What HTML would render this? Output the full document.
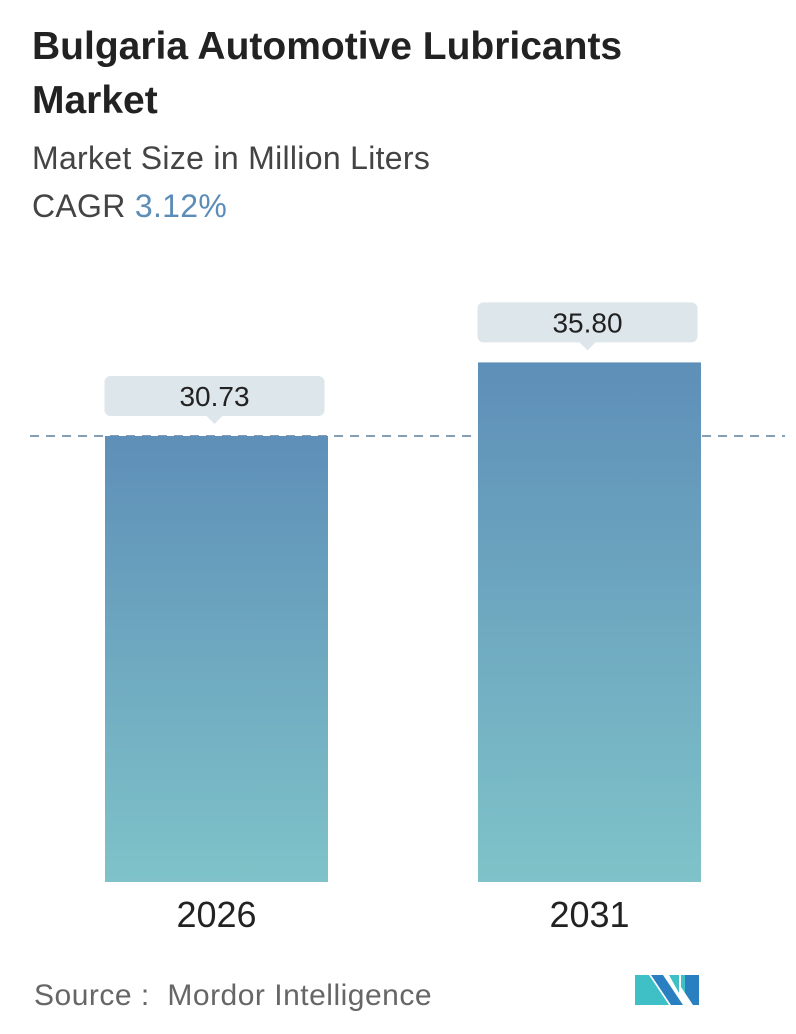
<!DOCTYPE html>
<html><head><meta charset="utf-8"><style>
body{margin:0;background:#fff;font-family:"Liberation Sans",sans-serif;}
#wrap{position:relative;width:796px;height:1034px;overflow:hidden;}
.t{position:absolute;white-space:nowrap;}
</style></head><body>
<div id="wrap">
<div class="t" style="left:32px;top:20px;font-size:39px;font-weight:bold;color:#222;line-height:54px;">Bulgaria Automotive Lubricants<br>Market</div>
<div class="t" style="left:32px;top:138px;font-size:32px;letter-spacing:0.3px;color:#444;line-height:40px;">Market Size in Million Liters</div>
<div class="t" style="left:32px;top:186px;font-size:32px;letter-spacing:0.3px;color:#444;line-height:40px;">CAGR <span style="color:#5b8db8">3.12%</span></div>
<svg id="chart" width="796" height="1034" style="position:absolute;left:0;top:0">
<defs><linearGradient id="g" x1="0" y1="0" x2="0" y2="1"><stop offset="0" stop-color="#5e8fb8"/><stop offset="1" stop-color="#7fc3c9"/></linearGradient></defs>
</svg>
<div class="t" style="left:34px;top:978px;font-size:30px;letter-spacing:0.5px;color:#666;line-height:36px;">Source :&nbsp; Mordor Intelligence</div>
<svg width="70" height="36" style="position:absolute;left:633px;top:971px">
<polygon points="2,4 16,4 36,34 2,34" fill="#3ec0c6"/><polygon points="18,4 30,4 50,34 38,34" fill="#2a7fc0"/><polygon points="36,4 46,4 46,22" fill="#3ec0c6"/><polygon points="52,4 66,4 66,34 60,34 52,22" fill="#2a7fc0"/><polygon points="48,4 52,4 52,22 48,16" fill="#3ec0c6"/>
</svg>
</div>
<script>
const categories=["2026","2031"];
const values=[30.73,35.80];
const labels=["30.73","35.80"];
const NS="http://www.w3.org/2000/svg";
const svg=document.getElementById('chart');
const base=882,scale=446/30.73,x0=[105,478],bw=223;
function y(v){return base-v*scale;}
function mk(t,a){const e=document.createElementNS(NS,t);for(const k in a)e.setAttribute(k,a[k]);svg.appendChild(e);return e;}
const dl=mk('line',{x1:30,x2:785,y1:y(values[0]),y2:y(values[0]),stroke:'#5b7f9c','stroke-width':1.5,'stroke-dasharray':'9,7'});


values.forEach((v,i)=>{
 const r=mk('rect',{x:x0[i],y:y(v),width:bw,height:base-y(v),fill:'url(#g)'});
 
 
 const cx=x0[i]+bw/2-2,top=y(v)-60;
 const b=mk('path',{d:`M${cx-110},${top+6}a6,6 0 0 1 6,-6h208a6,6 0 0 1 6,6v28a6,6 0 0 1 -6,6h-96l-8,8l-8,-8h-96a6,6 0 0 1 -6,-6z`,fill:'#dde6ea'});
 
 
 const t=mk('text',{x:cx,y:top+30,'text-anchor':'middle','font-size':28,fill:'#222','font-family':'Liberation Sans'});
 t.textContent=labels[i];
 
 
 const c=mk('text',{x:x0[i]+bw/2,y:927,'text-anchor':'middle','font-size':36,fill:'#222','font-family':'Liberation Sans'});
 c.textContent=categories[i];
 
 
});
</script>
</body></html>
